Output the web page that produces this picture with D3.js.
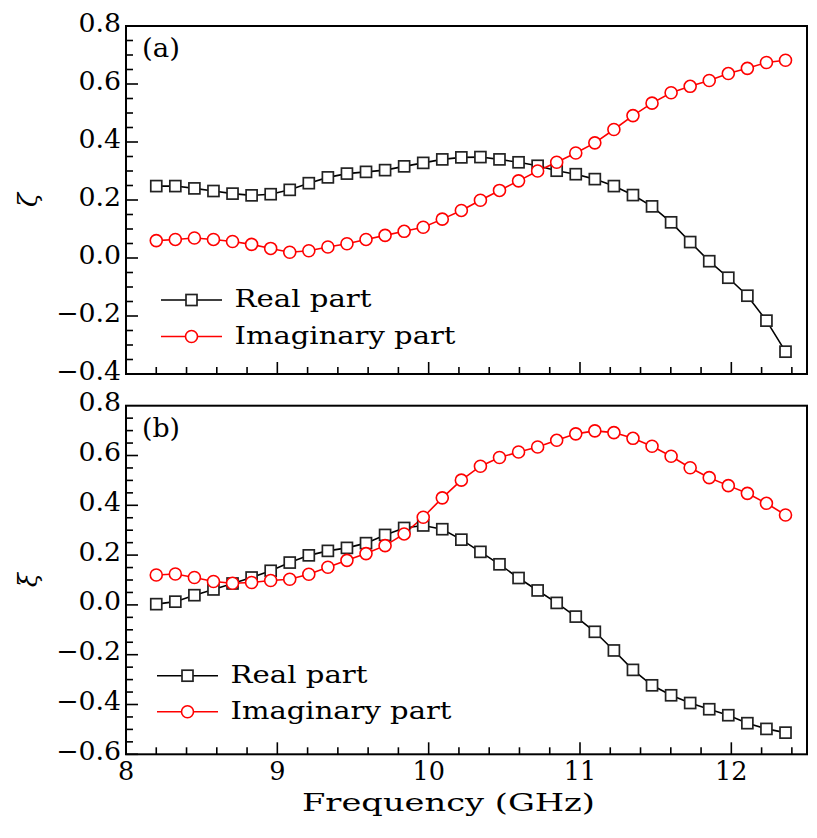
<!DOCTYPE html>
<html>
<head>
<meta charset="utf-8">
<script src="https://cdn.jsdelivr.net/npm/d3@7/dist/d3.min.js"></script>
<style>
  html, body { margin: 0; padding: 0; background: #fff; }
  svg { display: block; }
  text { font-family: "DejaVu Serif", "Liberation Serif", serif; fill: #000; }
</style>
</head>
<body>
<svg id="chart" width="817" height="838"></svg>
<script>
// ---- data ----
const freq = [8.200, 8.326, 8.452, 8.578, 8.704, 8.830, 8.956, 9.082, 9.208, 9.334,
  9.460, 9.586, 9.712, 9.838, 9.964, 10.090, 10.216, 10.342, 10.468, 10.594,
  10.720, 10.846, 10.972, 11.098, 11.224, 11.350, 11.476, 11.602, 11.728, 11.854,
  11.980, 12.106, 12.232, 12.358];

const zetaReal = [0.248, 0.248, 0.240, 0.231, 0.222, 0.216, 0.220, 0.235, 0.258, 0.278,
  0.291, 0.297, 0.303, 0.316, 0.328, 0.340, 0.347, 0.348, 0.340, 0.330,
  0.318, 0.301, 0.289, 0.272, 0.248, 0.217, 0.178, 0.123, 0.055, -0.011,
  -0.068, -0.130, -0.216, -0.323];
const zetaImag = [0.060, 0.064, 0.069, 0.064, 0.057, 0.047, 0.033, 0.020, 0.025, 0.038,
  0.049, 0.064, 0.078, 0.092, 0.106, 0.134, 0.164, 0.199, 0.233, 0.266,
  0.300, 0.330, 0.362, 0.397, 0.443, 0.491, 0.534, 0.570, 0.592, 0.612,
  0.636, 0.654, 0.674, 0.682];

const xiReal = [0.003, 0.013, 0.039, 0.062, 0.086, 0.110, 0.137, 0.170, 0.199, 0.217,
  0.229, 0.248, 0.281, 0.309, 0.319, 0.304, 0.262, 0.213, 0.163, 0.108,
  0.058, 0.008, -0.047, -0.108, -0.183, -0.261, -0.323, -0.363, -0.394, -0.419,
  -0.443, -0.475, -0.498, -0.513];
const xiImag = [0.120, 0.124, 0.110, 0.094, 0.087, 0.090, 0.098, 0.103, 0.123, 0.151,
  0.179, 0.206, 0.238, 0.285, 0.352, 0.430, 0.501, 0.557, 0.592, 0.614,
  0.634, 0.661, 0.687, 0.699, 0.692, 0.669, 0.637, 0.597, 0.551, 0.511,
  0.479, 0.448, 0.408, 0.361];

const xMajorTicks = [8, 9, 10, 11, 12];
const yTicksTop = [-0.4, -0.2, 0.0, 0.2, 0.4, 0.6, 0.8];
const yTicksBottom = [-0.6, -0.4, -0.2, 0.0, 0.2, 0.4, 0.6, 0.8];
const seriesNames = ["Real part", "Imaginary part"];
const panelLabels = ["(a)", "(b)"];
const yLabels = ["ζ", "ξ"];
const xLabel = "Frequency (GHz)";

// ---- layout ----
const svg = d3.select("#chart");
const left = 126, right = 807;
const x = d3.scaleLinear().domain([8, 12.5]).range([left, right]);

const panels = [
  { top: 26, bottom: 374, domain: [-0.4, 0.8], ticks: yTicksTop, real: zetaReal, imag: zetaImag,
    label: panelLabels[0], ylab: yLabels[0], legendY: [300, 336.5], legendX: 161, showX: false },
  { top: 405.7, bottom: 754.3, domain: [-0.6, 0.8], ticks: yTicksBottom, real: xiReal, imag: xiImag,
    label: panelLabels[1], ylab: yLabels[1], legendY: [675.7, 711.7], legendX: 157, showX: true }
];

const fmt = v => (v < 0 ? "\u2212" : "") + Math.abs(v).toFixed(1);
const near = (a, b) => Math.abs(a - b) < 1e-6;
const stretch = (sel, w) => sel.attr("textLength", w).attr("lengthAdjust", "spacingAndGlyphs");
const widen = (sel, k) => { const w = sel.node().getComputedTextLength(); stretch(sel, w * k); };

panels.forEach(p => {
  const y = d3.scaleLinear().domain(p.domain).range([p.bottom, p.top]);
  const g = svg.append("g");

  // ticks on y (inward)
  const yMinor = d3.range(Math.round(p.domain[0] * 20), Math.round(p.domain[1] * 20) + 1).map(k => k / 20);
  yMinor.forEach(v => {
    const major = p.ticks.some(t => near(t, v));
    if (near(v, p.domain[1])) return;
    g.append("line")
      .attr("x1", left).attr("x2", left + (major ? 12 : 7))
      .attr("y1", y(v)).attr("y2", y(v))
      .attr("stroke", "#000").attr("stroke-width", 1.6);
  });
  // ticks on x (inward)
  const xMinor = d3.range(40, 63).map(k => k / 5);
  xMinor.forEach(v => {
    const major = xMajorTicks.some(t => near(t, v));
    if (near(v, 8)) return;
    g.append("line")
      .attr("x1", x(v)).attr("x2", x(v))
      .attr("y1", p.bottom).attr("y2", p.bottom - (major ? 12 : 7))
      .attr("stroke", "#000").attr("stroke-width", 1.6);
  });

  // y tick labels
  p.ticks.forEach(v => {
    const t = g.append("text").attr("x", 121).attr("y", y(v) + 5.5)
      .attr("text-anchor", "end").attr("font-size", 25.5).text(fmt(v));
    widen(t, 1.05);
  });
  if (p.showX) {
    xMajorTicks.forEach(v => {
      g.append("text").attr("x", x(v)).attr("y", 780)
        .attr("text-anchor", "middle").attr("font-size", 25.5).text(v);
    });
  }

  // y label
  g.append("text")
    .attr("transform", `translate(37, ${(p.top + p.bottom) / 2}) rotate(-90)`)
    .attr("text-anchor", "middle").attr("font-size", 26).attr("font-style", "italic")
    .text(p.ylab);

  // lines
  const line = vals => d3.line().x((d, i) => x(freq[i])).y(d => y(d))(vals);
  g.append("path").attr("d", line(p.real)).attr("fill", "none")
    .attr("stroke", "#000").attr("stroke-width", 1.6);
  g.append("path").attr("d", line(p.imag)).attr("fill", "none")
    .attr("stroke", "#ff0000").attr("stroke-width", 1.6);

  // markers
  g.selectAll(null).data(p.real).enter().append("rect")
    .attr("x", (d, i) => x(freq[i]) - 5.5).attr("y", d => y(d) - 5.5)
    .attr("width", 11).attr("height", 11)
    .attr("fill", "#fff").attr("stroke", "#222").attr("stroke-width", 1.7);
  g.selectAll(null).data(p.imag).enter().append("circle")
    .attr("cx", (d, i) => x(freq[i])).attr("cy", d => y(d)).attr("r", 6)
    .attr("fill", "#fff").attr("stroke", "#ff0000").attr("stroke-width", 1.6);

  // frame
  g.append("rect").attr("x", left).attr("y", p.top)
    .attr("width", right - left).attr("height", p.bottom - p.top)
    .attr("fill", "none").attr("stroke", "#000").attr("stroke-width", 2);

  // panel label
  const pl = g.append("text").attr("x", 142).attr("y", p.top + 31)
    .attr("font-size", 25.5).text(p.label);
  stretch(pl, 38);

  // legend
  const lx1 = p.legendX, lx2 = p.legendX + 61, lmid = p.legendX + 30.5, tx = p.legendX + 73.5;
  const ly0 = p.legendY[0], ly1 = p.legendY[1];
  g.append("line").attr("x1", lx1).attr("x2", lx2).attr("y1", ly0).attr("y2", ly0)
    .attr("stroke", "#000").attr("stroke-width", 1.6);
  g.append("rect").attr("x", lmid - 5.5).attr("y", ly0 - 5.5).attr("width", 11).attr("height", 11)
    .attr("fill", "#fff").attr("stroke", "#222").attr("stroke-width", 1.7);
  stretch(g.append("text").attr("x", tx).attr("y", ly0 + 7).attr("font-size", 25).text(seriesNames[0]), 137);
  g.append("line").attr("x1", lx1).attr("x2", lx2).attr("y1", ly1).attr("y2", ly1)
    .attr("stroke", "#ff0000").attr("stroke-width", 1.6);
  g.append("circle").attr("cx", lmid).attr("cy", ly1).attr("r", 6)
    .attr("fill", "#fff").attr("stroke", "#ff0000").attr("stroke-width", 1.6);
  stretch(g.append("text").attr("x", tx).attr("y", ly1 + 7).attr("font-size", 25).text(seriesNames[1]), 221);
});

stretch(svg.append("text").attr("x", 448.5).attr("y", 811).attr("text-anchor", "middle")
  .attr("font-size", 25).text(xLabel), 293);
</script>
</body>
</html>
